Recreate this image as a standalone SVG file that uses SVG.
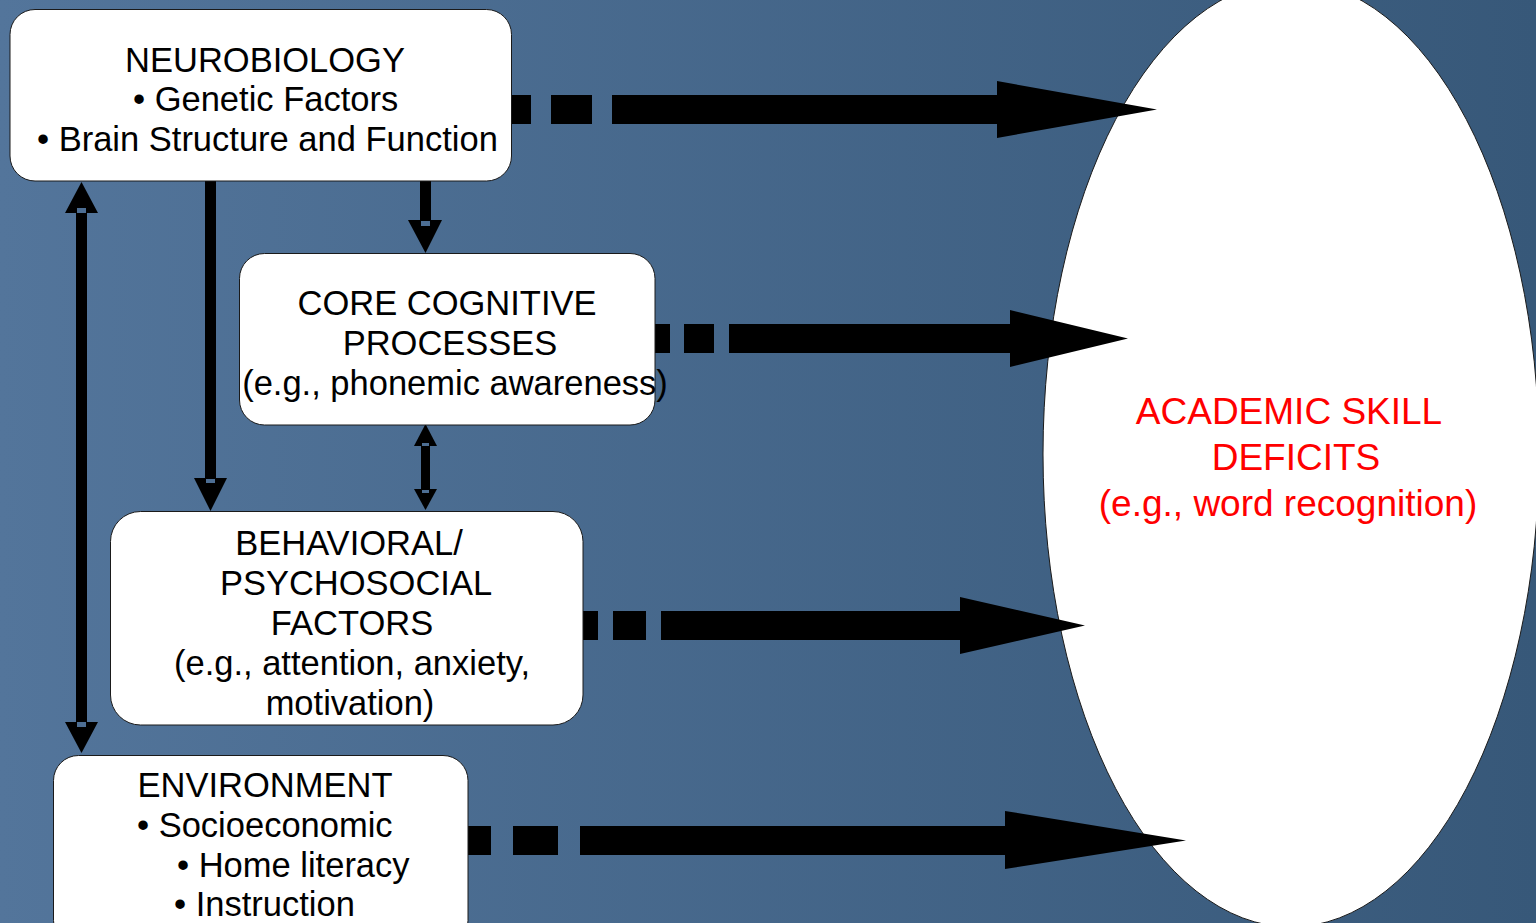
<svg xmlns="http://www.w3.org/2000/svg" width="1536" height="923" viewBox="0 0 1536 923">
  <defs>
    <linearGradient id="bg" x1="0" y1="0" x2="1" y2="0">
      <stop offset="0" stop-color="#53759b"/>
      <stop offset="1" stop-color="#375879"/>
    </linearGradient>
    <style>
      .box { fill: #ffffff; stroke: #1a1a1a; stroke-width: 1; }
      .lbl { font-family: "Liberation Sans", Arial, sans-serif; font-size: 34.5px; fill: #000000; }
      .mid { text-anchor: middle; }
      .goal { font-family: "Liberation Sans", Arial, sans-serif; font-size: 37px; fill: #ff0000; text-anchor: middle; }
      .ink { fill: #000000; }
      .notch { fill: #4d6e93; }
    </style>
  </defs>

  <!-- backdrop -->
  <rect x="0" y="0" width="1536" height="923" fill="url(#bg)"/>

  <!-- outcome ellipse -->
  <g id="academic-skill-deficits">
    <ellipse cx="1291" cy="454" rx="248" ry="473" fill="#ffffff" stroke="#1a1a1a" stroke-width="1"/>
    <text class="goal" x="1289" y="424">ACADEMIC SKILL</text>
    <text class="goal" x="1296" y="470">DEFICITS</text>
    <text class="goal" x="1288" y="516">(e.g., word recognition)</text>
  </g>

  <!-- connectors -->
  <g id="connectors">
    <!-- dashed block arrows toward the outcome -->
    <g id="arrow-neuro-outcome" class="ink">
      <rect x="511" y="95" width="20" height="29"/>
      <rect x="551" y="95" width="41" height="29"/>
      <polygon points="612,95 997,95 997,81 1157,109.5 997,138 997,124 612,124"/>
    </g>
    <g id="arrow-core-outcome" class="ink">
      <rect x="655" y="324" width="15" height="29"/>
      <rect x="684" y="324" width="30" height="29"/>
      <polygon points="729,324 1010,324 1010,310 1128,338.5 1010,367 1010,353 729,353"/>
    </g>
    <g id="arrow-behav-outcome" class="ink">
      <rect x="583" y="611" width="15" height="29"/>
      <rect x="613" y="611" width="33" height="29"/>
      <polygon points="661,611 960,611 960,597 1085,625.5 960,654 960,640 661,640"/>
    </g>
    <g id="arrow-env-outcome" class="ink">
      <rect x="468" y="826" width="23" height="29"/>
      <rect x="513" y="826" width="45" height="29"/>
      <polygon points="580,826 1005,826 1005,811 1186,840.5 1005,869 1005,855 580,855"/>
    </g>

    <!-- neurobiology <-> environment -->
    <g id="arrow-neuro-env">
      <rect class="ink" x="76" y="210" width="11" height="515"/>
      <polygon class="ink" points="81.5,182 98,213 65,213"/>
      <polygon class="ink" points="65,722 98,722 81.5,753"/>
      <rect class="notch" x="77" y="208" width="9" height="5"/>
      <rect class="notch" x="77" y="722" width="9" height="5"/>
    </g>

    <!-- neurobiology -> behavioral -->
    <g id="arrow-neuro-behav">
      <rect class="ink" x="205" y="181" width="11" height="300"/>
      <polygon class="ink" points="194,478 227,478 210.5,511"/>
      <rect class="notch" x="206" y="479" width="9" height="4"/>
    </g>

    <!-- neurobiology -> core cognitive -->
    <g id="arrow-neuro-core">
      <rect class="ink" x="420" y="181" width="11" height="42"/>
      <polygon class="ink" points="408,220 442,220 425.5,253"/>
      <rect class="notch" x="421" y="221" width="9" height="5"/>
    </g>

    <!-- core cognitive <-> behavioral -->
    <g id="arrow-core-behav">
      <rect class="ink" x="421" y="443" width="9" height="50"/>
      <polygon class="ink" points="425.5,424 437,446 414,446"/>
      <polygon class="ink" points="414,489 437,489 425.5,510"/>
      <rect class="notch" x="422" y="443" width="7" height="3"/>
      <rect class="notch" x="422" y="490" width="7" height="3"/>
    </g>
  </g>

  <!-- nodes -->
  <g id="node-neurobiology">
    <rect class="box" x="10" y="9.5" width="501.5" height="171.5" rx="25" ry="25"/>
    <text class="lbl mid" x="265" y="72">NEUROBIOLOGY</text>
    <text class="lbl" x="133" y="111">• Genetic Factors</text>
    <text class="lbl" x="37" y="151">• Brain Structure and Function</text>
  </g>

  <g id="node-core-cognitive">
    <rect class="box" x="239.5" y="253.5" width="415.5" height="171.5" rx="25" ry="25"/>
    <text class="lbl mid" x="447" y="315">CORE COGNITIVE</text>
    <text class="lbl mid" x="450" y="355">PROCESSES</text>
    <text class="lbl mid" x="455" y="395">(e.g., phonemic awareness)</text>
  </g>

  <g id="node-behavioral">
    <rect class="box" x="110.5" y="511.5" width="472.5" height="213.5" rx="30" ry="30"/>
    <text class="lbl mid" x="349" y="555">BEHAVIORAL/</text>
    <text class="lbl mid" x="356" y="595">PSYCHOSOCIAL</text>
    <text class="lbl mid" x="352" y="635">FACTORS</text>
    <text class="lbl mid" x="352" y="675">(e.g., attention, anxiety,</text>
    <text class="lbl mid" x="350" y="715">motivation)</text>
  </g>

  <g id="node-environment">
    <rect class="box" x="53.5" y="755.5" width="414.5" height="190" rx="25" ry="25"/>
    <text class="lbl mid" x="265" y="797">ENVIRONMENT</text>
    <text class="lbl" x="137" y="837">• Socioeconomic</text>
    <text class="lbl" x="177" y="877">• Home literacy</text>
    <text class="lbl" x="174" y="916">• Instruction</text>
  </g>
</svg>
